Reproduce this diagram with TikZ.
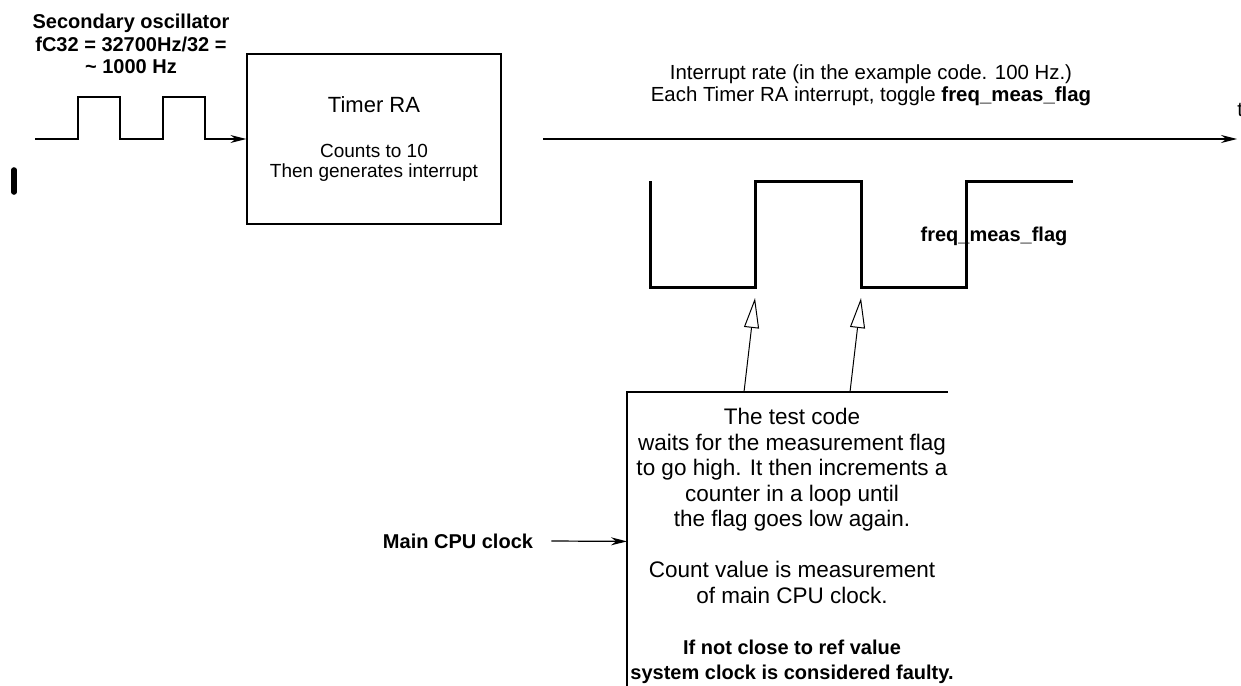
\documentclass[tikz,border=0pt]{standalone}
\usepackage{fontspec}
\setmainfont{Liberation Sans}
\usetikzlibrary{arrows.meta,calc}

\begin{document}
\begin{tikzpicture}[x=0.5pt,y=-0.5pt,
  wire/.style={line width=0.6pt},
  arr/.style={wire,-{Stealth[length=8pt,width=4pt]}},
  hollow/.style={line width=0.5pt,-{Triangle[open,length=15pt,width=7.5pt]}},
  flag/.style={line width=1.5pt},
  lbl/.style={font=\fontsize{10.2}{11}\selectfont,align=center,inner sep=0pt},
  blbl/.style={font=\fontsize{10}{11.25}\selectfont\bfseries,align=center,inner sep=0pt},
  note/.style={font=\fontsize{11.25}{12.75}\selectfont,align=center,inner sep=0pt},
  box/.style={draw,line width=0.6pt,align=center,font=\fontsize{9.5}{10}\selectfont}]
\useasboundingbox (0,0) rectangle (1241,685);

\node[blbl] (osc) at (131,44) {Secondary oscillator\\fC32 = 32700Hz/32 =\\\textasciitilde{} 1000 Hz};
\node[box,minimum width=127pt,minimum height=85pt] (timer) at (374,139)
  {{\fontsize{11}{13}\selectfont Timer RA}\\[12.5pt]Counts to 10\\Then generates interrupt};
\coordinate (clkin) at (35,139);
\draw[arr] (clkin) -| (78,97) -| (120,139) -| (163,97) -| (205,139) -- (timer.west);
\draw[line width=2.8pt,line cap=round] (14,170) -- (14,192);

% time axis
\coordinate (t0) at (543,139);
\coordinate (t1) at (1237,139);
\draw[arr] (t0) -- (t1);
\node[lbl,anchor=base west] (tlbl) at (1237,116) {t};
\node[lbl] (rate) at (871,85) {Interrupt rate (in the example code. 100 Hz.)\\Each Timer RA interrupt, toggle \textbf{freq\_meas\_flag}};

% flag waveform
\coordinate (rise) at (755,287);
\coordinate (fall) at (861,287);
\draw[flag] (650,181) |- (rise) |- (861,181) |- (966,287) |- (1073,181);
\node[blbl] (flaglbl) at (994,236) {freq\_meas\_flag};

% test code box
\node[minimum width=160pt,minimum height=149pt,inner sep=0pt,anchor=north west] (testbox) at (627,392) {};
\draw[wire] (testbox.north east) -- (testbox.north west) -- (testbox.south west);
\node[note] (testtxt) at (792,546) {The test code\\
  waits for the measurement flag\\
  to go high. It then increments a\\
  counter in a loop until\\
  the flag goes low again.\\[12.75pt]
  Count value is measurement\\
  of main CPU clock.\\[12.75pt]
  {\fontsize{10}{12.75}\selectfont\bfseries If not close to ref value}\\
  {\fontsize{10}{12.75}\selectfont\bfseries system clock is considered faulty.}};
\draw[hollow] ($(testbox.north west)+(117,0)$) -- ($(rise)+(0,11)$);
\draw[hollow] ($(testbox.north west)+(223,0)$) -- ($(fall)+(0,11)$);

\node[blbl] (cpu) at (458,541) {Main CPU clock};
\draw[arr] ([xshift=9pt]cpu.east) -- (testbox.west);
\end{tikzpicture}
\end{document}
